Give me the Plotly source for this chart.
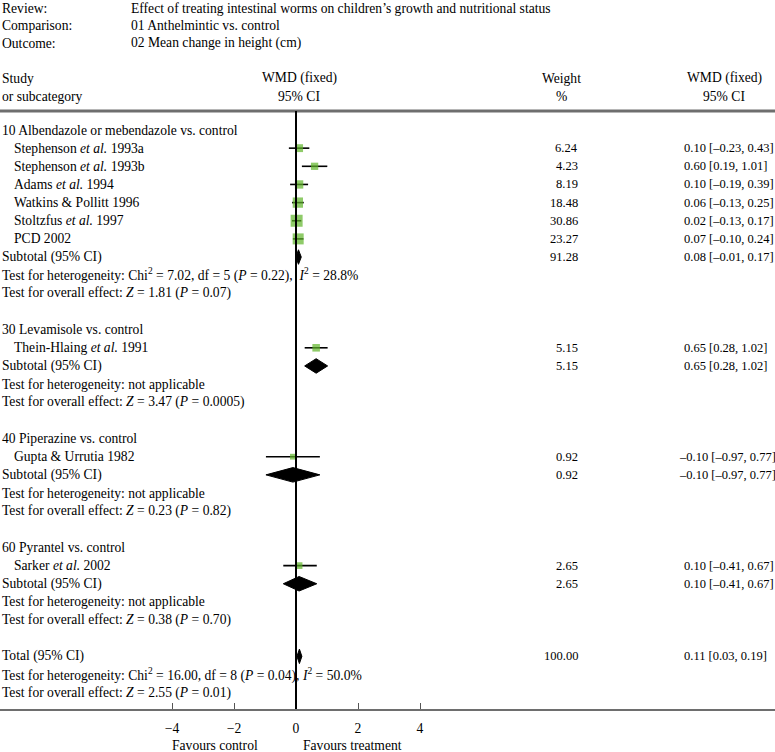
import plotly.graph_objects as go

# ---------------- data ----------------
header_labels = ["Review:", "Comparison:", "Outcome:"]
header_values = ["Effect of treating intestinal worms on children’s growth and nutritional status",
                 "01 Anthelmintic vs. control",
                 "02 Mean change in height (cm)"]

group_names = ["10 Albendazole or mebendazole vs. control",
               "30 Levamisole vs. control",
               "40 Piperazine vs. control",
               "60 Pyrantel vs. control"]
group_wmd = [0.08, 0.65, -0.10, 0.10]
group_lo = [-0.01, 0.28, -0.97, -0.41]
group_hi = [0.17, 1.02, 0.77, 0.67]
group_weight = [91.28, 5.15, 0.92, 2.65]
group_het = ["Chi<sup>2</sup> = 7.02, df = 5 (<i>P</i> = 0.22),  <i>I</i><sup>2</sup> = 28.8%",
             "not applicable", "not applicable", "not applicable"]
group_z = ["1.81 (<i>P</i> = 0.07)", "3.47 (<i>P</i> = 0.0005)",
           "0.23 (<i>P</i> = 0.82)", "0.38 (<i>P</i> = 0.70)"]

study_names = ["Stephenson <i>et al.</i> 1993a", "Stephenson <i>et al.</i> 1993b",
               "Adams <i>et al.</i> 1994", "Watkins & Pollitt 1996",
               "Stoltzfus <i>et al.</i> 1997", "PCD 2002",
               "Thein-Hlaing <i>et al.</i> 1991",
               "Gupta & Urrutia 1982",
               "Sarker <i>et al.</i> 2002"]
study_group = [0, 0, 0, 0, 0, 0, 1, 2, 3]
study_wmd = [0.10, 0.60, 0.10, 0.06, 0.02, 0.07, 0.65, -0.10, 0.10]
study_lo = [-0.23, 0.19, -0.19, -0.13, -0.13, -0.10, 0.28, -0.97, -0.41]
study_hi = [0.43, 1.01, 0.39, 0.25, 0.17, 0.24, 1.02, 0.77, 0.67]
study_weight = [6.24, 4.23, 8.19, 18.48, 30.86, 23.27, 5.15, 0.92, 2.65]

total_wmd, total_lo, total_hi, total_weight = 0.11, 0.03, 0.19, 100.00
total_het = "Chi<sup>2</sup> = 16.00, df = 8 (<i>P</i> = 0.04), <i>I</i><sup>2</sup> = 50.0%"
total_z = "2.55 (<i>P</i> = 0.01)"

tick_vals = [-4, -2, 0, 2, 4]
axis_left_label = "Favours control"
axis_right_label = "Favours treatment"

# ---------------- layout helpers ----------------
W, H = 775, 752
BOTTOM = 709          # pixel of bottom rule (plot area bottom)
ROW0, ROWH = 130, 18.15
X0PX, PXU = 296, 31.0  # pixel of x=0 and pixels per unit

def row_of(px):
    return (px - ROW0) / ROWH

def xp(px):
    return px / W

def yp(px):
    return (BOTTOM - px) / BOTTOM

FAMILY = "Liberation Serif, Times New Roman, serif"
FONT = dict(family=FAMILY, size=13.6, color="black")
NUMFONT = dict(family=FAMILY, size=12.5, color="black")

def fmt(v):
    return f"{v:.2f}".replace("-", "–")

def ci_text(e, l, h):
    return f"{fmt(e)} [{fmt(l)}, {fmt(h)}]"

fig = go.Figure()
ann = []

def text(x_px, row, s, anchor="left", font=FONT):
    ann.append(dict(x=xp(x_px), xref="paper", y=row, yref="y", text=s,
                    showarrow=False, xanchor=anchor, yanchor="middle", font=font))

# header
for lab, val, py in zip(header_labels, header_values, [8, 25.5, 43]):
    text(0, row_of(py), lab)
    text(129, row_of(py), val)
text(0, row_of(78), "Study")
text(0, row_of(96), "or subcategory")
text(299, row_of(78), "WMD (fixed)", "center")
text(299, row_of(96), "95% CI", "center")
text(561, row_of(78), "Weight", "center")
text(561, row_of(96), "%", "center")
text(724, row_of(78), "WMD (fixed)", "center")
text(724, row_of(96), "95% CI", "center")

def diamond(e, l, h, r):
    hh = 0.4
    fig.add_trace(go.Scatter(x=[l, e, h, e, l], y=[r, r - hh, r, r + hh, r],
                             mode="lines", fill="toself", fillcolor="black",
                             line=dict(color="black", width=1), hoverinfo="skip",
                             showlegend=False))

WX, CX = 580, 682

def ci_cell(r, e, l, h):
    # a leading minus sign hangs slightly to the left, as in the source table
    text(CX - (5 if e < 0 else 0), r, ci_text(e, l, h), "left", NUMFONT)

row = 0
sq_x, sq_y, sq_s = [], [], []
for g, gname in enumerate(group_names):
    text(0, row, gname)
    row += 1
    for i, sg in enumerate(study_group):
        if sg != g:
            continue
        text(12, row, study_names[i])
        text(WX, row, f"{study_weight[i]:.2f}", "right", NUMFONT)
        ci_cell(row, study_wmd[i], study_lo[i], study_hi[i])
        fig.add_trace(go.Scatter(x=[study_lo[i], study_hi[i]], y=[row, row], mode="lines",
                                 line=dict(color="black", width=1.6), hoverinfo="skip",
                                 showlegend=False))
        sq_x.append(study_wmd[i]); sq_y.append(row)
        sq_s.append(4.5 + 1.35 * study_weight[i] ** 0.5)
        row += 1
    text(0, row, "Subtotal (95% CI)")
    text(WX, row, f"{group_weight[g]:.2f}", "right", NUMFONT)
    ci_cell(row, group_wmd[g], group_lo[g], group_hi[g])
    diamond(group_wmd[g], group_lo[g], group_hi[g], row)
    row += 1
    text(0, row, "Test for heterogeneity: " + group_het[g])
    row += 1
    text(0, row, "Test for overall effect: <i>Z</i> = " + group_z[g])
    row += 2

text(0, row, "Total (95% CI)")
text(WX, row, f"{total_weight:.2f}", "right", NUMFONT)
ci_cell(row, total_wmd, total_lo, total_hi)
diamond(total_wmd, total_lo, total_hi, row)
text(0, row + 1, "Test for heterogeneity: " + total_het)
text(0, row + 2, "Test for overall effect: <i>Z</i> = " + total_z)

fig.add_trace(go.Scatter(x=sq_x, y=sq_y, mode="markers",
                         marker=dict(symbol="square", size=sq_s, color="#5fb52a", line=dict(width=0)),
                         hoverinfo="skip", showlegend=False))

# axis labels
ann.append(dict(x=xp(215), xref="paper", y=yp(745), yref="paper", text=axis_left_label,
                showarrow=False, xanchor="center", yanchor="middle", font=FONT))
ann.append(dict(x=xp(352), xref="paper", y=yp(745), yref="paper", text=axis_right_label,
                showarrow=False, xanchor="center", yanchor="middle", font=FONT))

shapes = [
    dict(type="line", xref="paper", yref="paper", x0=0, x1=1, y0=yp(111), y1=yp(111),
         line=dict(color="#6e6e6e", width=3)),
    dict(type="line", xref="x", yref="paper", x0=0, x1=0, y0=yp(111), y1=0,
         line=dict(color="black", width=2)),
]

fig.update_layout(
    width=W, height=H, margin=dict(l=0, r=0, t=0, b=H - BOTTOM),
    paper_bgcolor="white", plot_bgcolor="white",
    annotations=ann, shapes=shapes, showlegend=False,
    xaxis=dict(range=[-X0PX / PXU, (W - X0PX) / PXU], tickvals=tick_vals,
               showgrid=False, zeroline=False, showline=True, linecolor="#6e6e6e", linewidth=2,
               ticks="inside", ticklen=6, tickcolor="#555555", tickwidth=1,
               tickfont=FONT, ticklabelstandoff=6, fixedrange=True),
    yaxis=dict(range=[row_of(BOTTOM), row_of(0)], visible=False, fixedrange=True),
)

fig.write_html("out.html", config={"displayModeBar": False},
               post_script="document.body.style.margin='0';document.body.style.overflow='hidden';")
